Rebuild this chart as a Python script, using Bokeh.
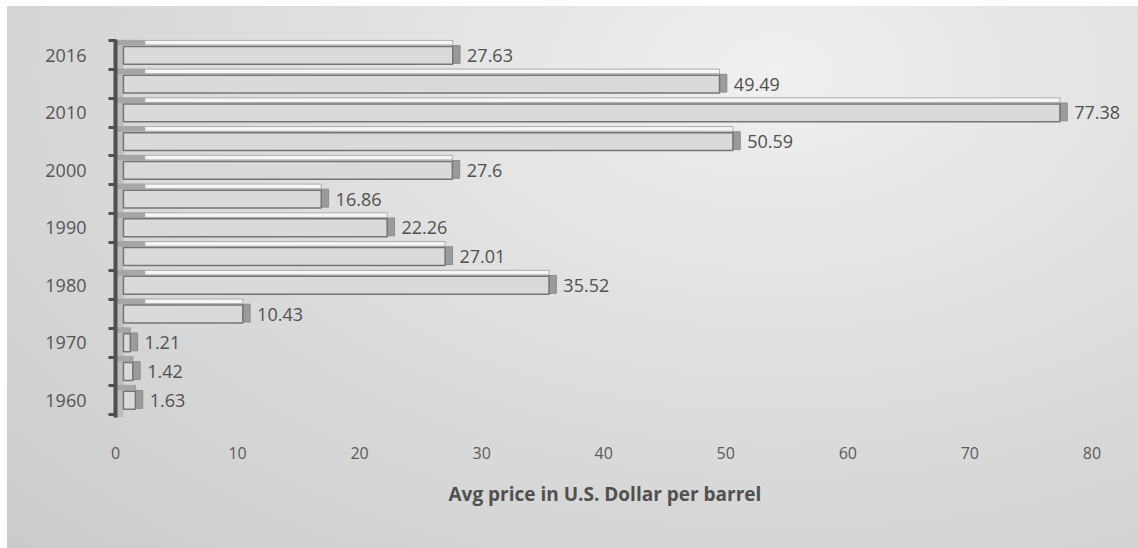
from bokeh.plotting import figure
from bokeh.models import ColumnDataSource, FixedTicker, Range1d, Title
from bokeh.core.properties import value
from bokeh.embed import file_html
from bokeh.resources import INLINE

# ---- data ----
years = ["1960", "1965", "1970", "1975", "1980", "1985", "1990",
         "1995", "2000", "2005", "2010", "2015", "2016"]
prices = [1.63, 1.42, 1.21, 10.43, 35.52, 27.01, 22.26,
          16.86, 27.6, 50.59, 77.38, 49.49, 27.63]
shown_year_labels = ["1960", "1970", "1980", "1990", "2000", "2010", "2016"]
x_ticks = [0, 10, 20, 30, 40, 50, 60, 70, 80]
x_title = "Avg price in U.S. Dollar per barrel"

idx = list(range(len(years)))
src = ColumnDataSource(dict(
    idx=idx,
    price=prices,
    label=[str(v) for v in prices],
    top_y=[i + 0.44 for i in idx],
    top_left=[min(2.4, v) for v in prices],
    cap_right=[v + 0.6 for v in prices],
    cap_y=[i + 0.03 for i in idx],
))

FONT = "Open Sans"

p = figure(width=1131, height=542, output_backend="svg", toolbar_location=None,
           x_range=Range1d(0, 83), y_range=Range1d(-0.6, 12.55),
           min_border_left=108, min_border_right=10,
           min_border_top=33, min_border_bottom=131)
p.styles = {
    "background": "radial-gradient(ellipse at 68% 12%, #f0f0f0 0%, #e0e0e0 40%, #cbcbcb 100%)",
    "margin-left": "7px",
    "margin-top": "6px",
}
p.border_fill_color = None
p.background_fill_color = None
p.outline_line_color = None
p.grid.visible = False

# back wall strip next to the axis
p.quad(left=0, right=0.65, bottom=-0.6, top=12.5, fill_color="#bdbdbd", line_color=None)

# left shading wedges between bars (floor of the 3D)
p.hbar(y="top_y", left=0, right="top_left", height=0.2, source=src,
       fill_color="#a6a6a6", line_color=None)
# top face of each bar
p.hbar(y="top_y", left="top_left", right="price", height=0.16, source=src,
       fill_color="#f6f6f6", line_color="#9a9a9a", line_width=0.8)
# right side cap
p.hbar(y="cap_y", left="price", right="cap_right", height=0.62, source=src,
       fill_color="#9b9b9b", line_color="#8a8a8a", line_width=1)
# front face
p.hbar(y="idx", left=0.65, right="price", height=0.62, source=src,
       fill_color="#dadada", line_color="#747474", line_width=1.5)

# value labels
p.text(x="cap_right", y="idx", text="label", source=src, x_offset=7,
       text_baseline="middle", text_align="left",
       text_font=value(FONT), text_font_size="18px", text_color="#505050")

# y axis
yax = p.yaxis[0]
yax.ticker = FixedTicker(ticks=[i for i, y in enumerate(years) if y in shown_year_labels],
                         minor_ticks=[i - 0.5 for i in range(len(years) + 1)])
yax.major_label_overrides = {i: y for i, y in enumerate(years)}
yax.axis_line_color = "#4f4f4f"
yax.axis_line_width = 4
yax.major_tick_out = 0
yax.major_tick_in = 0
yax.minor_tick_out = 7
yax.minor_tick_in = 0
yax.minor_tick_line_color = "#4f4f4f"
yax.minor_tick_line_width = 3
yax.major_label_standoff = 22
yax.major_label_text_font = FONT
yax.major_label_text_font_size = "18px"
yax.major_label_text_color = "#555555"

# x axis
xax = p.xaxis[0]
xax.ticker = FixedTicker(ticks=x_ticks)
xax.axis_line_color = None
xax.major_tick_line_color = None
xax.minor_tick_line_color = None
xax.major_label_standoff = 23
xax.major_label_text_font = FONT
xax.major_label_text_font_size = "16px"
xax.major_label_text_color = "#5a5a5a"

# axis title (as a below-title so it can be centred under the 0-80 scale)
t = Title(text=x_title, align="left", offset=333, standoff=35,
          text_font=FONT, text_font_size="19px", text_font_style="bold",
          text_color="#505050")
p.add_layout(t, "below")

open("out.html", "w").write(file_html(p, INLINE))
